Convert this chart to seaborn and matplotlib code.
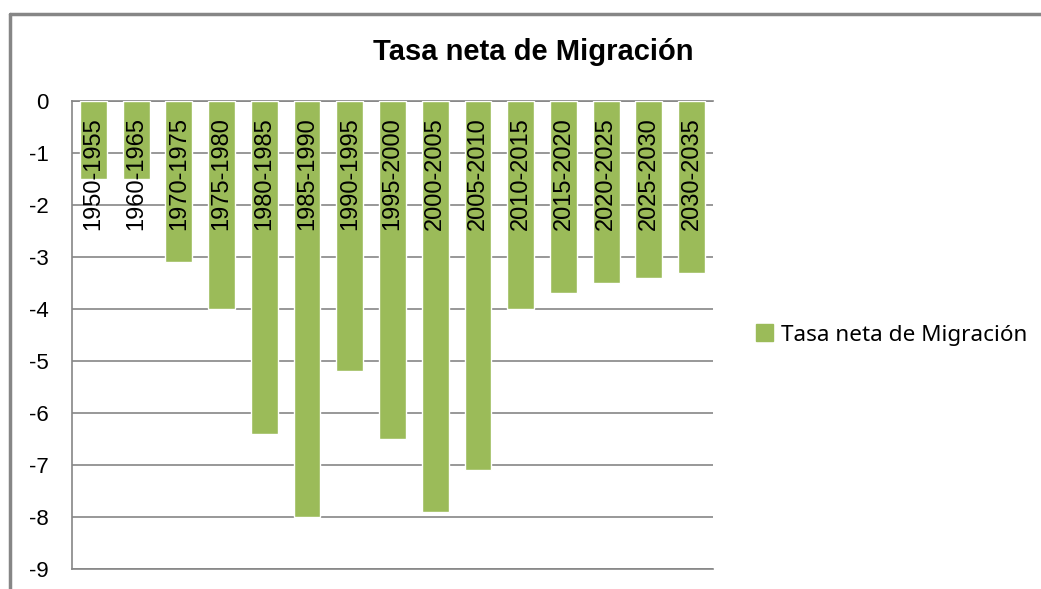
import matplotlib
matplotlib.use("Agg")
import matplotlib.pyplot as plt
import seaborn as sns
import pandas as pd
from matplotlib.patches import Patch
from matplotlib.lines import Line2D

periods = ["1950-1955", "1960-1965", "1970-1975", "1975-1980", "1980-1985",
           "1985-1990", "1990-1995", "1995-2000", "2000-2005", "2005-2010",
           "2010-2015", "2015-2020", "2020-2025", "2025-2030", "2030-2035"]
tasa = [-1.5, -1.5, -3.1, -4.0, -6.4, -8.0, -5.2, -6.5, -7.9, -7.1,
        -4.0, -3.7, -3.5, -3.4, -3.3]
yticks = [0, -1, -2, -3, -4, -5, -6, -7, -8, -9]
title = "Tasa neta de Migración"
series_name = "Tasa neta de Migración"

green = "#9BBB59"
grid_col = "#868686"

sns.set_style("white")
plt.rcParams['font.family'] = ['Liberation Sans', 'DejaVu Sans']
plt.rcParams['text.color'] = 'black'
plt.rcParams['ytick.color'] = 'black'

fig = plt.figure(figsize=(10.41, 5.89), dpi=100)
ax = fig.add_axes([72 / 1041, 1 - 569 / 589, (713 - 72) / 1041, (569 - 101) / 589])

df = pd.DataFrame({"periodo": periods, "tasa": tasa})
sns.barplot(data=df, x="periodo", y="tasa", color=green, saturation=1,
            width=0.63, ax=ax, zorder=3)

ax.set_ylim(-9, 0)
ax.set_xlim(-0.5, len(periods) - 0.5)
ax.set_yticks(yticks)
ax.set_yticklabels([str(v) for v in yticks], fontsize=16, color="black")
ax.tick_params(axis="y", length=0, pad=17)
ax.set_xticks([])
ax.set_xlabel("")
ax.set_ylabel("")

ax.yaxis.grid(True, color=grid_col, linewidth=1.2)
ax.set_axisbelow(True)
ax.spines["right"].set_visible(False)
for s in ["left", "top", "bottom"]:
    ax.spines[s].set_color(grid_col)
    ax.spines[s].set_linewidth(1.2)

# period labels inside the bars, rotated
for i, p in enumerate(periods):
    ax.text(i, -0.31, p, rotation=90, ha="center", va="top",
            fontsize=17, color="black", zorder=4)

fig.suptitle(title, x=(372 + 695) / 2 / 1041, y=1 - 52 / 589, va="center",
             fontsize=21, fontweight="bold", color="black")

handles = [Patch(facecolor=green, edgecolor=green, label=series_name)]
fig.legend(handles=handles, loc="center left", bbox_to_anchor=(747 / 1041, 1 - 335 / 589),
           frameon=False, handlelength=0.75, handleheight=0.75, labelcolor="black",
           handletextpad=0.35, borderaxespad=0, prop={"family": "Noto Sans", "size": 16.2})

# outer chart border
fig.add_artist(Line2D([9.5 / 1041, 9.5 / 1041], [0, 1 - 14 / 589],
                      transform=fig.transFigure, color=grid_col, linewidth=2.5))
fig.add_artist(Line2D([9.5 / 1041, 1], [1 - 14 / 589, 1 - 14 / 589],
                      transform=fig.transFigure, color=grid_col, linewidth=2.5))

fig.savefig("out.png", dpi=100)
